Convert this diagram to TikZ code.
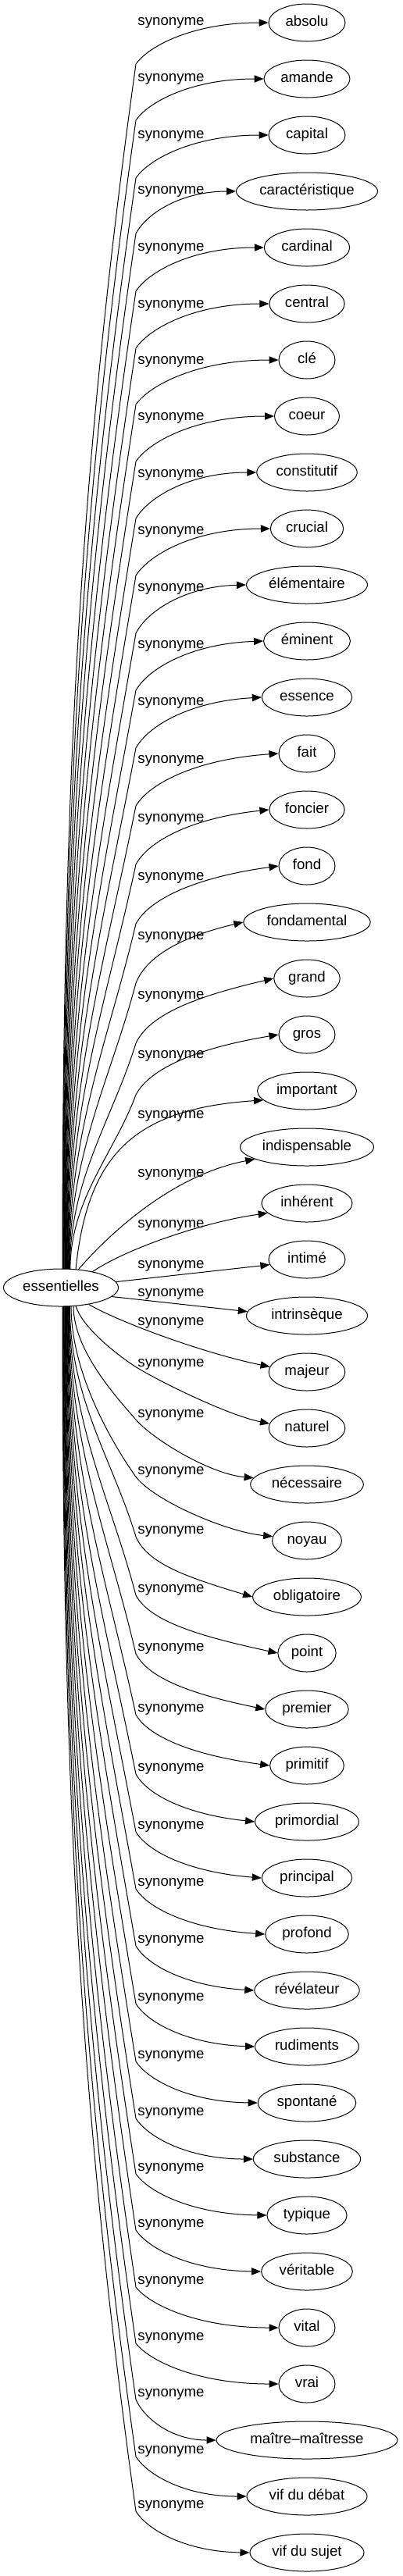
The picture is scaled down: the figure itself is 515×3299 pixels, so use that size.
\documentclass[tikz,border=0pt]{standalone}
\usepackage{fontspec}
\setmainfont{Liberation Sans}
\usetikzlibrary{arrows.meta,calc,shapes.geometric}
\begin{document}
\begin{tikzpicture}[x=0.75pt,y=-0.75pt,
  lbl/.style={font=\fontsize{14pt}{17pt}\selectfont},
  word/.style={lbl,draw,ellipse,line width=0.75pt,inner xsep=4.5pt,inner ysep=0pt,minimum width=54pt,minimum height=36pt,text height=10pt,text depth=3pt},
  fixw/.style={inner xsep=0pt,minimum width=#1},
  rel/.style={lbl,anchor=base,inner sep=0pt},
  syn/.style={line width=0.75pt,-{Triangle[length=9pt,width=7pt]}}]
\useasboundingbox (0,0) rectangle (515,3299);
\node[word,fixw=110.25pt] (e) at (78,1649) {essentielles};
\node[word,fixw=73.5pt] (n0) at (393,29) {absolu};
\node[word,fixw=82.5pt] (n1) at (393,101) {amande};
\node[word,fixw=73.5pt] (n2) at (393,173) {capital};
\node[word,fixw=135.75pt] (n3) at (393,245) {caractéristique};
\node[word] (n4) at (393,317) {cardinal};
\node[word] (n5) at (393,389) {central};
\node[word] (n6) at (393,461) {clé};
\node[word] (n7) at (393,533) {coeur};
\node[word] (n8) at (393,605) {constitutif};
\node[word] (n9) at (393,677) {crucial};
\node[word] (n10) at (393,749) {élémentaire};
\node[word] (n11) at (393,821) {éminent};
\node[word] (n12) at (393,893) {essence};
\node[word] (n13) at (393,965) {fait};
\node[word] (n14) at (393,1037) {foncier};
\node[word] (n15) at (393,1109) {fond};
\node[word] (n16) at (393,1181) {fondamental};
\node[word] (n17) at (393,1253) {grand};
\node[word] (n18) at (393,1325) {gros};
\node[word] (n19) at (393,1397) {important};
\node[word,fixw=128.25pt] (n20) at (393,1469) {indispensable};
\node[word,fixw=87pt] (n21) at (393,1541) {inhérent};
\node[word,fixw=73.5pt] (n22) at (393,1613) {intimé};
\node[word,fixw=116.25pt] (n23) at (393,1685) {intrinsèque};
\node[word] (n24) at (393,1757) {majeur};
\node[word] (n25) at (393,1829) {naturel};
\node[word] (n26) at (393,1901) {nécessaire};
\node[word] (n27) at (393,1973) {noyau};
\node[word] (n28) at (393,2045) {obligatoire};
\node[word] (n29) at (393,2117) {point};
\node[word] (n30) at (393,2189) {premier};
\node[word] (n31) at (393,2261) {primitif};
\node[word] (n32) at (393,2333) {primordial};
\node[word] (n33) at (393,2405) {principal};
\node[word] (n34) at (393,2477) {profond};
\node[word] (n35) at (393,2549) {révélateur};
\node[word] (n36) at (393,2621) {rudiments};
\node[word] (n37) at (393,2693) {spontané};
\node[word] (n38) at (393,2765) {substance};
\node[word] (n39) at (393,2837) {typique};
\node[word] (n40) at (393,2909) {véritable};
\node[word] (n41) at (393,2981) {vital};
\node[word] (n42) at (393,3053) {vrai};
\node[word,fixw=174pt] (n43) at (393,3125) {maître–maîtresse};
\node[word,fixw=115.5pt] (n44) at (393,3197) {vif du débat};
\node[word,fixw=109.5pt] (n45) at (393,3269) {vif du sujet};
% labels
\foreach \i/\lab in {0/27,1/99,2/172,3/243,4/316,5/389,6/461,7/533,8/606,9/679,10/752,11/825,12/898,13/972,14/1047,15/1122,16/1198,17/1274,18/1350,19/1427,20/1502,21/1567,22/1619,23/1655,24/1692,25/1745,26/1810,27/1883,28/1959,29/2034,30/2109,31/2187,32/2263,33/2337,34/2410,35/2483,36/2557,37/2631,38/2704,39/2775,40/2847,41/2920,42/2992,43/3064,44/3137,45/3207}
  \node[rel] (l\i) at (219,\lab+5) {synonyme};
% upper edges
\foreach \i/\lab/\bo in {0/27/55,1/99/55,2/172/56,3/243/56,4/316/57,5/389/57,6/461/57,7/533/58,8/606/58,9/679/58,10/752/59,11/825/59,12/898/60,13/972/60,14/1047/60,15/1122/61,16/1198/61,17/1274/62,18/1350/52}{
  \pgfmathsetmacro\vdx{2+0.55*\i}
  \pgfmathsetmacro\vdy{24*sqrt(1-(\vdx/73.5)^2)}
  \pgfmathsetmacro\vxs{78+\vdx}
  \pgfmathsetmacro\vys{1649-\vdy}
  \pgfmathsetmacro\vN{29+72*\i}
  \pgfmathsetmacro\vbY{\lab+\bo}
  \pgfmathsetmacro\vD{\vys-\vbY}
  \pgfmathsetmacro\vq{0.1+60/\vD}
  \pgfmathsetmacro\vcay{\vys-0.4*\vD}
  \pgfmathsetmacro\vcbx{174-\vq*\vD/3}
  \pgfmathsetmacro\vcby{\vbY+\vD/3}
  \pgfmathsetmacro\vcty{\vbY-0.45*(\vbY-\vN)}
  \pgfmathsetmacro\vcfy{max(\vN,\vbY-60)}
  \coordinate (B) at (174,\vbY);
  \coordinate (p3) at ($(B)!0.1!(n\i.west)$);
  \coordinate (p4) at ($(B)!0.44!(n\i.west)$);
  \coordinate (q3) at (0,\vcty);
  \coordinate (q4) at (0,\vcfy);
  \draw[syn] ($(e.center)+(\vdx,-\vdy)$) .. controls (\vxs,\vcay) and (\vcbx,\vcby) .. (B) .. controls (p3 |- q3) and (p4 |- q4) .. (n\i.west);
}
% lower edges
\foreach \i/\lab/\bo in {28/1959/9,29/2034/9,30/2109/9,31/2187/9,32/2263/9,33/2337/9,34/2410/9,35/2483/9,36/2557/9,37/2631/9,38/2704/9,39/2775/9,40/2847/9,41/2920/9,42/2992/9,43/3064/9,44/3137/9,45/3207/9}{
  \pgfmathsetmacro\vdx{2+0.55*(45-\i)}
  \pgfmathsetmacro\vdy{24*sqrt(1-(\vdx/73.5)^2)}
  \pgfmathsetmacro\vxs{78+\vdx}
  \pgfmathsetmacro\vys{1649+\vdy}
  \pgfmathsetmacro\vN{29+72*\i}
  \pgfmathsetmacro\vbY{\lab+\bo}
  \pgfmathsetmacro\vD{\vbY-\vys}
  \pgfmathsetmacro\vq{0.1+60/\vD}
  \pgfmathsetmacro\vcay{\vys+0.4*\vD}
  \pgfmathsetmacro\vcbx{174-\vq*\vD/3}
  \pgfmathsetmacro\vcby{\vbY-\vD/3}
  \pgfmathsetmacro\vcty{\vbY+0.45*(\vN-\vbY)}
  \pgfmathsetmacro\vcfy{min(\vN,\vbY+52)}
  \coordinate (B) at (174,\vbY);
  \coordinate (p3) at ($(B)!0.1!(n\i.west)$);
  \coordinate (p4) at ($(B)!0.44!(n\i.west)$);
  \coordinate (q3) at (0,\vcty);
  \coordinate (q4) at (0,\vcfy);
  \draw[syn] ($(e.center)+(\vdx,\vdy)$) .. controls (\vxs,\vcay) and (\vcbx,\vcby) .. (B) .. controls (p3 |- q3) and (p4 |- q4) .. (n\i.west);
}
% central edges
\draw[syn] ($(e.center)+(19,-23.2)$) .. controls (112,1480) and (170,1420) .. (n19.192);
\draw[syn] ($(e.center)+(22,-22.9)$) .. controls (140,1580) and (220,1505) .. (n20.193);
\draw[syn] ($(e.center)+(40,-20.1)$) .. controls (160,1600) and (260,1565) .. (n21.194);
\draw[syn] (e.6) -- (n22.188);
\draw[syn] (e.350) -- (n23.176);
\draw[syn] (e.329) .. controls (150,1692) and (260,1733) .. (n24.172);
\coordinate (b25) at (173,1750);
\coordinate (b26) at (173,1817);
\coordinate (b27) at (173,1890);
\draw[syn] ($(e.center)+(19,23.2)$) .. controls (105,1700) and (150,1735) .. (b25) .. controls (200,1767) and (290,1812) .. (n25.173);
\draw[syn] ($(e.center)+(16,23.4)$) .. controls (94,1730) and (150,1790) .. (b26) .. controls (196,1844) and (270,1888) .. (n26.173);
\draw[syn] ($(e.center)+(13,23.6)$) .. controls (91,1760) and (145,1850) .. (b27) .. controls (195,1921) and (290,1962) .. (n27.173);
\end{tikzpicture}
\end{document}
